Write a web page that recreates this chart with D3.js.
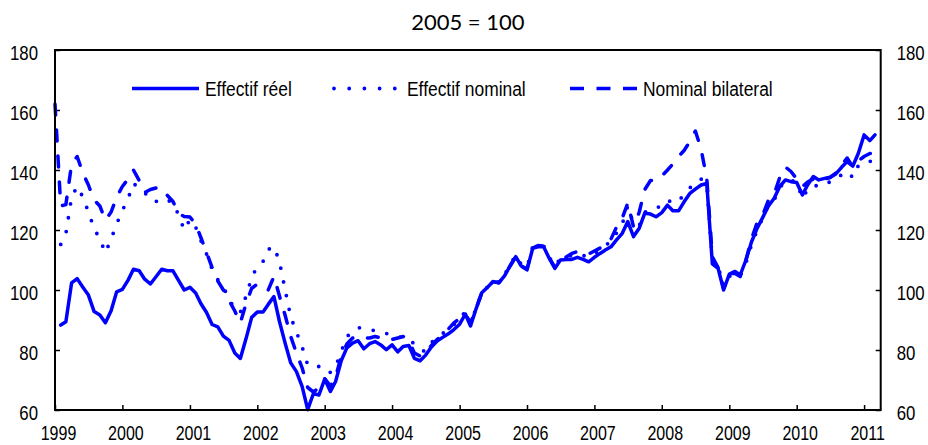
<!DOCTYPE html>
<html>
<head>
<meta charset="utf-8">
<script src="https://cdn.jsdelivr.net/npm/d3@7"></script>
<style>
  body { margin: 0; background: #fff; }
  text { font-family: "Liberation Sans", Arial, sans-serif; }
</style>
</head>
<body>
<div id="chart"></div>
<script>
// monthly points, Jan 1999 .. Apr 2011
var months = d3.timeMonth.range(new Date(1999, 0, 1), new Date(2011, 3, 2));
var years = d3.timeYear.range(new Date(1999, 0, 1), new Date(2011, 1, 1));
var yTicks = [60, 80, 100, 120, 140, 160, 180];
var title = "2005 = 100";
var seriesNames = ["Effectif réel", "Effectif nominal", "Nominal bilateral"];

// Effectif réel (Feb 1999 .. Mar 2011)
var reel = [null,
  88.3, 89.4, 102.4, 103.8, 100.9, 98.3, 92.8, 91.7, 89.1, 93.1, 99.4, 100.2,
  103.3, 106.9, 106.4, 103.6, 102, 104.4, 106.9, 106.4, 106.4, 103.1, 100, 100.9,
  99, 95.5, 92.5, 88.5, 87.7, 84.6, 83.2, 79, 77.2, 83.8, 90.8, 92.7,
  92.7, 95.2, 97.8, 89.5, 82.2, 75.7, 72.8, 67.8, 60.1, 65.5, 65, 70.3,
  66.2, 69.5, 76.5, 80.7, 82.3, 83.1, 80.4, 82.1, 82.8, 81.7, 80.1, 81.7,
  79.4, 81.2, 81.5, 77.2, 76.4, 78.3, 81, 83, 84.2, 85.4, 86.8, 88.6,
  92, 88, 93.9, 99.1, 100.9, 102.8, 102.4, 104.7, 108, 111.1, 108, 106.7,
  113.9, 114.4, 114.4, 110.6, 107.2, 110, 110.2, 110.2, 110.9, 110.2, 109.4, 110.9,
  112.2, 113.3, 114.4, 116.7, 118.9, 122.8, 117.8, 120.6, 125.6, 125.3, 124.4, 125.8,
  128.3, 126.4, 126.4, 129.4, 132.2, 133.6, 135, 135.5, 108.7, 107.2, 100, 105.3,
  106.2, 105, 110, 116, 120.6, 124.2, 128, 130.6, 134.5, 136.7, 136.1, 135.8,
  131.7, 135, 137.8, 136.7, 137.2, 137.6, 138.7, 140.9, 142.8, 141.3, 145.6, 151.7,
  149.8, 151.7, null];

// Effectif nominal (Feb 1999 .. Mar 2011)
var nominal = [null,
  115.2, 118.8, 131, 134.5, 131, 126, 120.5, 117, 112.4, 117, 122, 126.5,
  130.5, 135.5, 134, 132.5, 130, 129.5, 130.5, 130, 129, 125, 120, 123.5,
  121, 116.5, 112, 107, 103.5, 101, 97, 93.5, 92.5, 98, 104, 108,
  109.5, 113.5, 114.5, 109.5, 100, 91, 86, 81, 75, 74.5, 74.5, 74.5,
  72.5, 74.5, 79.5, 84.5, 86, 87.5, 87, 86.7, 86.5, 85.8, 85.5, 85,
  84.5, 84, 83.5, 82, 80, 79.5, 82.5, 84, 85.5, 87, 88.5, 90,
  93, 89, 94, 99, 101, 103, 102.5, 105, 108.5, 111.5, 108.5, 107.5,
  114.5, 115, 114.8, 111, 108, 110.5, 111, 111.5, 112, 111.5, 111, 112,
  113.5, 115, 116, 119, 122, 128, 122, 121.5, 126, 126.5, 127, 128.5,
  130, 129, 129.5, 132, 134, 136, 137, 135, 110, 108, 101, 104.5,
  106, 105, 109, 115, 120, 124, 128.5, 130, 134, 136.5, 136.5, 136,
  130.5, 133.5, 135, 134.5, 135.5, 136, 136.5, 138.5, 139.5, 137.5, 141.5, 142.5,
  143, 142, null];

// Nominal bilateral (Jan 1999 .. Mar 2011)
var bilateral = [162,
  128, 128.5, 142, 144.5, 139, 135, 130, 128, 123.3, 126, 131, 134.5,
  137, 140, 136.5, 132.5, 133.5, 134, 134, 131.5, 129.5, 125.5, 124.5, 124.3,
  122, 117.5, 112.5, 107.5, 103, 100, 96.5, 93, 89, 95.5, 100.5, 102,
  100.5, 100, 104.5, 98, 91.5, 84.5, 79, 74, 67.5, 66, 67.5, 70.5,
  68, 71, 78, 82, 84, 84.5, 84, 84, 84.5, 84, 83.5, 83.5,
  84, 84.5, 83, 79, 78, 79, 81.5, 83.5, 85, 87, 89, 90.5,
  92, 89, 94, 99, 101, 102.8, 102.4, 104.7, 108, 111.1, 108, 107,
  114, 114.8, 114.6, 110.8, 107.5, 110.3, 111, 112.2, 112.8, 112.5, 112, 113,
  114, 116, 117, 121, 124, 129, 121, 126, 133.5, 136.5, 136.5, 138,
  140, 142, 144.5, 146.5, 149.5, 153, 147, 137, 111, 107.5, 100.5, 105.5,
  105.5, 104.5, 110, 117, 122.5, 125, 130, 132, 137.5, 141, 139.5, 137,
  134.5, 136, 137, 136, 137, 137.5, 139, 141.5, 144, 141, 143, 144.5,
  145.5, 145.5, null];

var width = 928, height = 445;
var margin = {top: 50, right: 47.3, bottom: 35, left: 55};
var squeeze = 0.8;

var svg = d3.select("#chart")
    .append("svg")
    .attr("width", width)
    .attr("height", height);

var xScale = d3.scaleTime()
    .domain([new Date(1999, 0, 1), new Date(2011, 3, 1)])
    .range([margin.left, width - margin.right]);

var yScale = d3.scaleLinear()
    .domain([60, 180])
    .range([height - margin.bottom, margin.top]);

// title
svg.append("text")
    .attr("x", (margin.left + width - margin.right) / 2)
    .attr("y", 30)
    .attr("text-anchor", "middle")
    .style("font-family", "Lato, 'Open Sans', sans-serif")
    .style("font-size", "22px")
    .text(title);

// squeeze axis text horizontally, like the original
function squeezeText(g, dx, dy) {
    g.selectAll(".tick text").each(function () {
        var t = d3.select(this);
        var x0 = +t.attr("x") || 0;
        t.attr("x", null)
         .attr("dy", dy)
         .attr("transform", "translate(" + (x0 + dx) + ",0) scale(" + squeeze + ",1)");
    });
}

var leftAxis = svg.append("g")
    .attr("transform", `translate(${margin.left},0)`)
    .call(d3.axisLeft(yScale).tickValues(yTicks).tickSize(-5).tickPadding(17));
var rightAxis = svg.append("g")
    .attr("transform", `translate(${width - margin.right},0)`)
    .call(d3.axisRight(yScale).tickValues(yTicks).tickSize(-5).tickPadding(16));
var bottomAxis = svg.append("g")
    .attr("transform", `translate(0,${height - margin.bottom})`)
    .call(d3.axisBottom(xScale).tickValues(years).tickSize(-5).tickPadding(16)
        .tickFormat(d3.timeFormat("%Y")));

[leftAxis, rightAxis, bottomAxis].forEach(function (g) {
    g.select(".domain").remove();
    g.selectAll(".tick line").attr("stroke", "#000").attr("stroke-width", 1.5);
    g.selectAll(".tick text").attr("fill", "#000").style("font-size", "21px");
});
bottomAxis.selectAll(".tick text").style("font-size", "20px");
squeezeText(leftAxis, 0, "0.45em");
squeezeText(rightAxis, 0, "0.45em");
squeezeText(bottomAxis, 3, "0.71em");

// lines
var line = d3.line()
    .defined(function (d) { return d[1] != null; })
    .x(function (d) { return xScale(d[0]); })
    .y(function (d) { return yScale(d[1]); });

function pairs(vals) {
    return months.map(function (m, i) { return [m, vals[i]]; });
}

var styles = [
    {values: reel, dash: null},
    {values: nominal, dash: "0 14"},
    {values: bilateral, dash: "11 15"}
];

[2, 1, 0].forEach(function (k) {
    svg.append("path")
        .datum(pairs(styles[k].values))
        .attr("d", line)
        .attr("fill", "none")
        .attr("stroke", "#0000ff")
        .attr("stroke-width", k == 1 ? 3.8 : 3.5)
        .attr("stroke-linejoin", "round")
        .attr("stroke-linecap", "round")
        .attr("stroke-dasharray", styles[k].dash);
});

// frame
svg.append("rect")
    .attr("x", margin.left)
    .attr("y", margin.top)
    .attr("width", width - margin.right - margin.left)
    .attr("height", height - margin.bottom - margin.top)
    .attr("fill", "none")
    .attr("stroke", "#000")
    .attr("stroke-width", 2);

// legend
var legendX = [132, 334, 570];
var legendY = 88.5;
var legend = svg.append("g");
seriesNames.forEach(function (name, i) {
    var x0 = legendX[i];
    var sampleLen = i == 1 ? 62 : 67;
    legend.append("line")
        .attr("x1", x0).attr("x2", x0 + sampleLen)
        .attr("y1", legendY).attr("y2", legendY)
        .attr("stroke", "#0000ff")
        .attr("stroke-width", i == 1 ? 3.8 : 3.5)
        .attr("stroke-linecap", i == 1 ? "round" : "butt")
        .attr("stroke-dasharray", i == 1 ? "0 15.2" : (i == 2 ? "14 12.5" : null));
    legend.append("text")
        .attr("transform", "translate(" + (x0 + sampleLen + (i == 1 ? 11 : 6)) + "," + legendY + ") scale(0.83,1)")
        .attr("dy", "0.36em")
        .style("font-size", "21px")
        .attr("fill", "#000")
        .text(name);
});
</script>
</body>
</html>
